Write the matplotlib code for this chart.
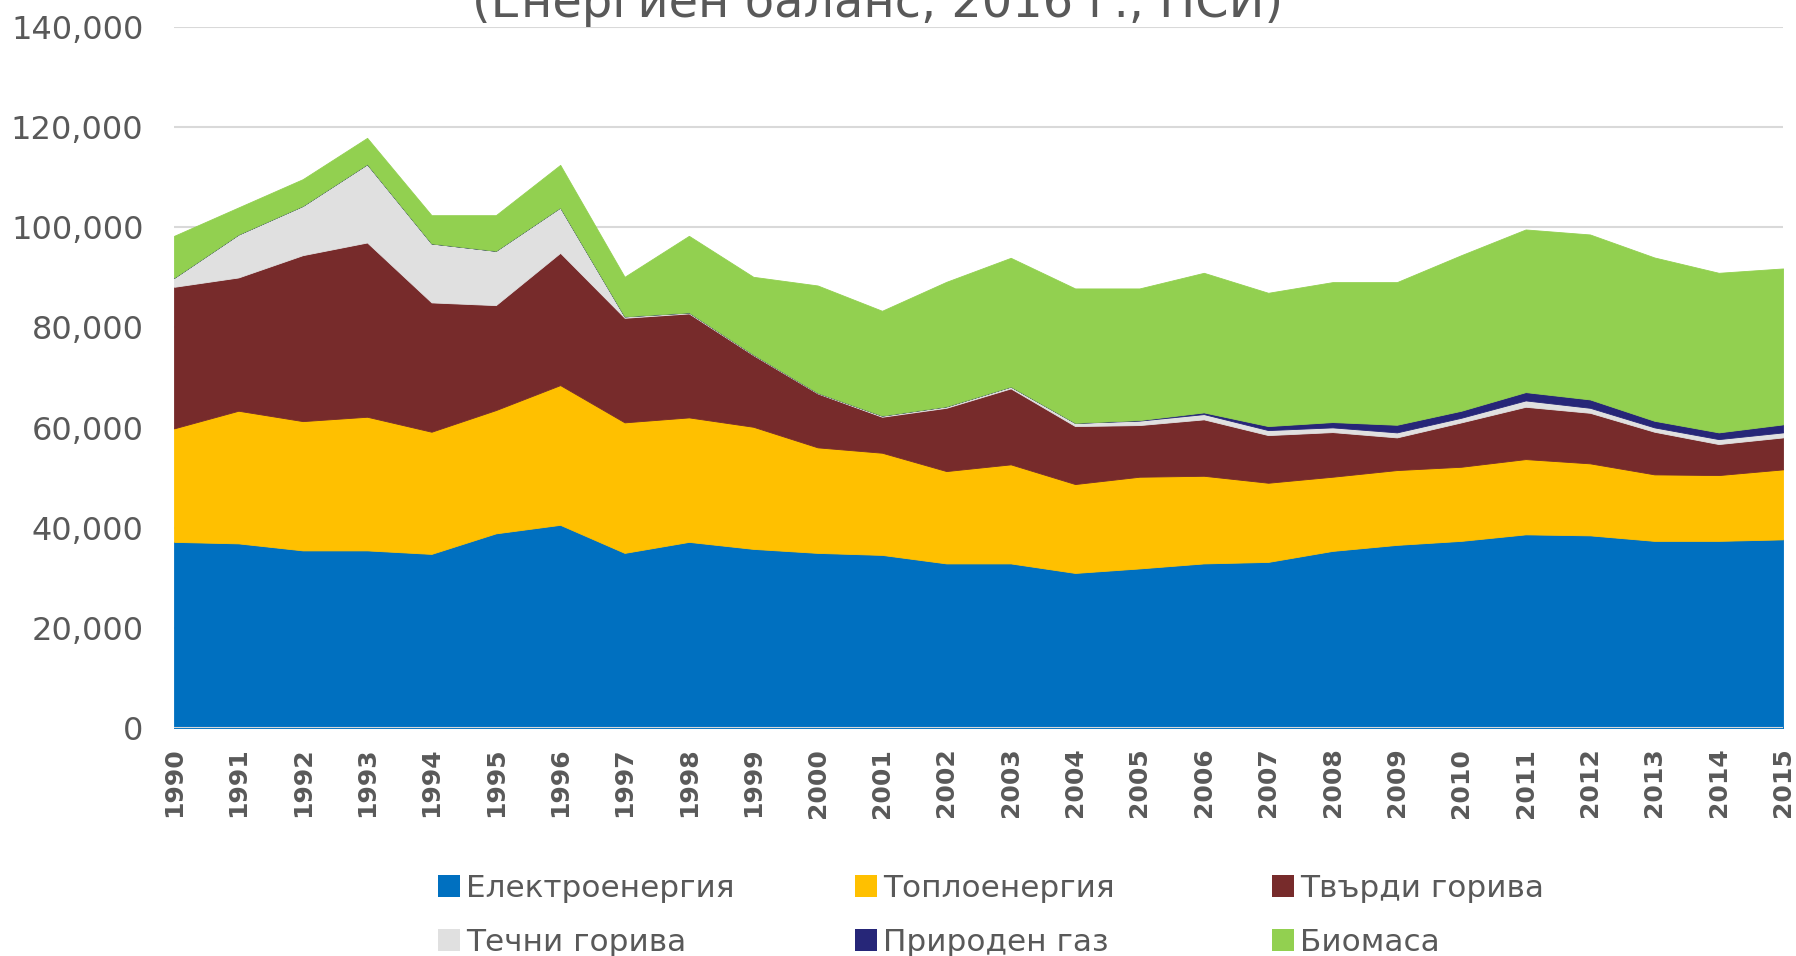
import matplotlib.pyplot as plt
from matplotlib.patches import Patch
from matplotlib.ticker import StrMethodFormatter

# Крайно енергийно потребление в домакинствата, 1990-2015 (toe)
years = list(range(1990, 2016))

electricity = [37200, 36900, 35500, 35500, 34800, 38900, 40600, 35000, 37200, 35800,
               35000, 34600, 32900, 32900, 31000, 31900, 32900, 33200, 35400, 36600,
               37400, 38700, 38500, 37400, 37400, 37700]
heat = [22650, 26470, 25800, 26670, 24380, 24600, 27890, 26050, 24840, 24370,
        21060, 20390, 18430, 19770, 17740, 18300, 17490, 15800, 14800, 14930,
        14790, 15020, 14370, 13270, 13130, 13970]
solid_fuels = [28250, 26600, 33120, 34780, 25810, 20950, 26400, 20870, 20750, 14300,
               10770, 7180, 12630, 15160, 11570, 10310, 11260, 9510, 8910, 6520,
               8860, 10440, 10090, 8510, 6190, 6380]
liquid_fuels = [1800, 8580, 9840, 15630, 11770, 10840, 9050, 280, 200, 130,
                120, 230, 290, 370, 640, 890, 1050, 1000, 940, 1000,
                920, 1270, 1000, 870, 990, 1000]
natural_gas = [0, 0, 0, 0, 0, 0, 0, 0, 0, 0,
               0, 0, 0, 0, 0, 100, 340, 800, 1060, 1520,
               1400, 1660, 1670, 1320, 1340, 1600]
biomass = [8370, 5390, 5330, 5250, 5640, 7110, 8500, 7900, 15290, 15500,
           21420, 20920, 24850, 25690, 26830, 26280, 27860, 26600, 27930, 28470,
           31050, 32460, 32920, 32590, 31850, 31120]

labels = ['Електроенергия', 'Топлоенергия', 'Твърди горива',
          'Течни горива', 'Природен газ', 'Биомаса']
colors = ['#0070C0', '#FFC000', '#772B2B', '#E0E0E0', '#262678', '#92D050']
subtitle = '(Енергиен баланс, 2016 г., НСИ)'

text_color = '#595959'

fig = plt.figure(figsize=(17.96, 9.56), dpi=100)
ax = fig.add_axes([0.0969, 0.2382, 0.8959, 0.7338])

ax.stackplot(years, electricity, heat, solid_fuels, liquid_fuels, natural_gas, biomass,
             colors=colors, labels=labels, edgecolor='face', linewidth=0.6)

ax.set_xlim(1990, 2015)
ax.set_ylim(0, 140000)
ax.set_yticks(range(0, 140001, 20000))
ax.yaxis.set_major_formatter(StrMethodFormatter('{x:,.0f}'))
ax.set_xticks(years)
ax.set_xticklabels([str(y) for y in years], rotation=90, fontsize=18,
                   fontweight='bold', color=text_color)
ax.tick_params(axis='y', labelsize=23, labelcolor=text_color, length=0, pad=22)
ax.tick_params(axis='x', length=0, pad=14)

ax.grid(axis='y', color='#D9D9D9', linewidth=1.5)
ax.set_axisbelow(True)
ax.axhline(0, color='#D9D9D9', linewidth=1.5, zorder=5)
for s in ax.spines.values():
    s.set_visible(False)

# the first title line lies above the figure, only the second one shows
fig.text(0.4885, 0.9822, subtitle, ha='center', va='baseline',
         fontsize=34.5, color=text_color)

# legend: 3 columns x 2 rows, fixed column pitch
handles = [Patch(facecolor=c, edgecolor='none') for c in colors]
col_x = [438, 855, 1272]
for i, x in enumerate(col_x):
    leg = fig.legend([handles[i], handles[i + 3]], [labels[i], labels[i + 3]],
                     loc='center left', bbox_to_anchor=(x / 1796, 0.0425),
                     frameon=False, fontsize=22.4, handlelength=0.7, handleheight=0.7,
                     handletextpad=0.2, labelspacing=0.8, borderpad=0, borderaxespad=0)
    for t in leg.get_texts():
        t.set_color(text_color)

fig.savefig('out.png', dpi=100)
